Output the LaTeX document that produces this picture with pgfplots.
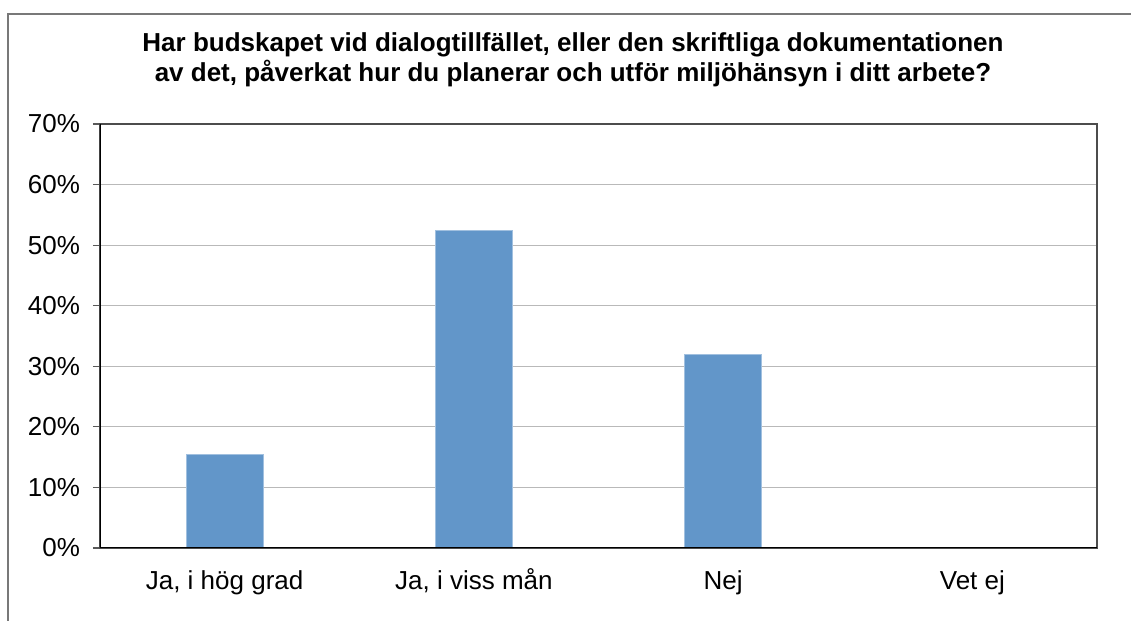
\documentclass[border=0pt]{standalone}
\usepackage{pgfplots}
\pgfplotsset{compat=1.18}
\usepackage{fontspec}
\setmainfont{Liberation Sans}
\definecolor{barblue}{RGB}{98,150,201}
\definecolor{framegray}{RGB}{120,120,120}
\begin{document}
\begin{tikzpicture}
\useasboundingbox (-50pt,-36.5pt) rectangle (515.5pt,274pt);
\draw[framegray, line width=0.6pt] (-46pt,-36.5pt) -- (-46pt,267pt) -- (515.5pt,267pt);
\node[align=center, font=\fontsize{13}{15}\selectfont\bfseries] at (236.5pt,244pt)
  {Har budskapet vid dialogtillfället, eller den skriftliga dokumentationen\\av det, påverkat hur du planerar och utför miljöhänsyn i ditt arbete?};
\begin{axis}[
  at={(0,0)}, anchor=south west, scale only axis,
  width=498.5pt, height=212pt,
  ymin=0, ymax=70, xmin=-0.5, xmax=3.5,
  ytick={0,10,...,70},
  yticklabel={\pgfmathprintnumber{\tick}\%},
  xtick={0,1,2,3},
  xticklabels={{Ja, i hög grad},{Ja, i viss mån},{Nej},{Vet ej}},
  /pgf/number format/assume math mode=true,
  ticklabel style={font=\fontsize{13}{15}\selectfont},
  xtick style={draw=none},
  ytick style={draw=gray!70!black, line width=0.6pt},
  ytick pos=left,
  tick align=outside,
  major tick length=3.5pt,
  ymajorgrids,
  grid style={color=gray!55, line width=0.6pt},
  axis line style={draw=gray!60!black, line width=0.6pt},
  yticklabel style={xshift=-3pt},
  xticklabel style={text height=10pt, text depth=3pt, yshift=-3.5pt},
]
\addplot[ybar, bar width=38.5pt, fill=barblue, draw=barblue!60!white, line width=0.4pt]
  coordinates {(0,15.5) (1,52.4) (2,32.0) (3,0)};
\draw[black, line width=1pt] (rel axis cs:0,1) -- (rel axis cs:0,0) -- (rel axis cs:1,0);
\end{axis}
\end{tikzpicture}
\end{document}
